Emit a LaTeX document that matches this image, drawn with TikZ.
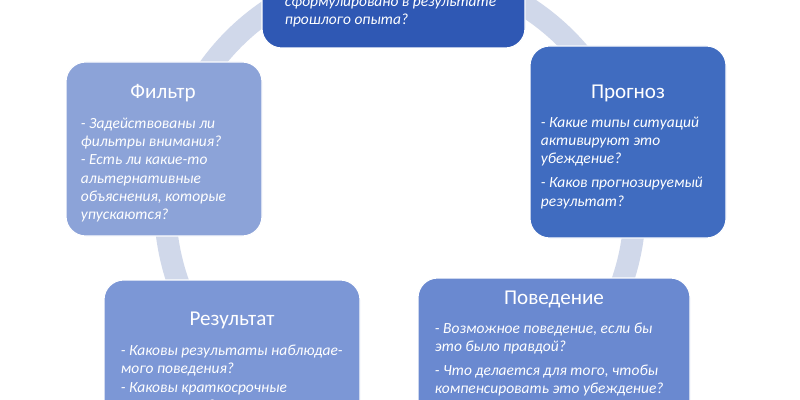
\documentclass[tikz,border=0pt]{standalone}
\usepackage{fontspec}
\setmainfont{Carlito}
\begin{document}
\begin{tikzpicture}[x=0.025cm,y=-0.025cm,
 box/.style={draw=white,line width=0.8pt,rounded corners=14pt},
 ttl/.style={text=white,font=\fontsize{15}{17}\selectfont},
 txt/.style={text=white,font=\fontsize{11}{13}\selectfont\itshape,align=left,anchor=north west}]
\clip (0,0) rectangle (800,400);
\fill[white] (0,0) rectangle (800,400);
\draw[line width=0.55cm,color={rgb,255:red,208;green,216;blue,234}] (400,205) circle[radius=235];
% top
\fill[box,fill={rgb,255:red,47;green,88;blue,180}] (262,-60) rectangle (525,48);
\node[txt] (t) at (280,-9) {сформулировано в результате\\прошлого опыта?};
% prognoz
\fill[box,fill={rgb,255:red,64;green,108;blue,192}] (530,46) rectangle (726,238);
\node[ttl] (p) at (628,93) {Прогноз};
\node[txt] (pt) at (536,112) {- Какие типы ситуаций\\активируют это\\убеждение?\\[4pt]- Каков прогнозируемый\\результат?};
% filtr
\fill[box,fill={rgb,255:red,140;green,163;blue,216}] (66,62) rectangle (262,236);
\node[ttl] (f) at (163,93) {Фильтр};
\node[txt] (ft) at (76,113) {- Задействованы ли\\фильтры внимания?\\- Есть ли какие-то\\альтернативные\\объяснения, которые\\упускаются?};
% povedenie
\fill[box,fill={rgb,255:red,106;green,137;blue,208}] (418,278) rectangle (690,440);
\node[ttl] (b) at (554,299) {Поведение};
\node[txt] (bt) at (430,318) {- Возможное поведение, если бы\\это было правдой?\\[4pt]- Что делается для того, чтобы\\компенсировать это убеждение?\\- Что ...};
% rezultat
\fill[box,fill={rgb,255:red,124;green,151;blue,214}] (104,280) rectangle (360,440);
\node[ttl] (r) at (232,320) {Результат};
\node[txt] (rt) at (116,340) {- Каковы результаты наблюдае-\\мого поведения?\\- Каковы краткосрочные\\последствия?};
\end{tikzpicture}
\end{document}
